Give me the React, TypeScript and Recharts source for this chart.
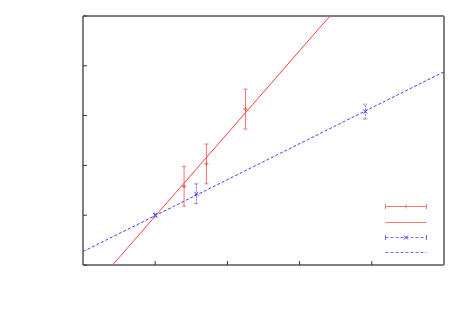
import * as React from 'react';
import { ComposedChart, Scatter, XAxis, YAxis, ErrorBar, Customized } from 'recharts';

// measured points (x, y, error)
const redX = [1.4, 1.71, 2.25];
const redY = [1.58, 2.03, 3.13];
const redErr = [0.4, 0.4, 0.4];

const blueX = [1.0, 1.57, 3.91];
const blueY = [1.0, 1.43, 3.08];
const blueErr = [0.04, 0.2, 0.15];

// fitted lines, end points
const redFitX = [0.41, 3.42];
const redFitY = [0, 5];
const blueFitX = [0, 5];
const blueFitY = [0.27, 3.88];

const axisTicks = [0, 1, 2, 3, 4, 5];

const RED = '#ff4040';
const BLUE = '#4040ff';
const RED_BAR = '#ff7070';
const BLUE_BAR = '#7070ff';
const FRAME = '#808080';

const redData = redX.map((x, i) => ({ x, y: redY[i], err: redErr[i] }));
const blueData = blueX.map((x, i) => ({ x, y: blueY[i], err: blueErr[i] }));
const redFit = redFitX.map((x, i) => ({ x, y: redFitY[i] }));
const blueFit = blueFitX.map((x, i) => ({ x, y: blueFitY[i] }));

const Plus = (props: any) => {
    const { cx, cy } = props;
    return (
        <g stroke={RED} strokeWidth={1}>
            <line x1={cx - 2} y1={cy} x2={cx + 2} y2={cy}/>
            <line x1={cx} y1={cy - 2} x2={cx} y2={cy + 2}/>
        </g>
    );
};

const Cross = (props: any) => {
    const { cx, cy } = props;
    return (
        <g stroke={BLUE} strokeWidth={1}>
            <line x1={cx - 2} y1={cy - 2} x2={cx + 2} y2={cy + 2}/>
            <line x1={cx - 2} y1={cy + 2} x2={cx + 2} y2={cy - 2}/>
        </g>
    );
};

const Nothing = () => null;

const KeySamples = () => {
    const x1 = 377.5;
    const x2 = 418.5;
    const mid = (x1 + x2) / 2;
    return (
        <g>
            <g stroke={RED_BAR} strokeWidth={1}>
                <line x1={x1} y1={198.5} x2={x2} y2={198.5}/>
                <line x1={x1} y1={196} x2={x1} y2={201}/>
                <line x1={x2} y1={196} x2={x2} y2={201}/>
                <line x1={mid} y1={196.5} x2={mid} y2={200.5}/>
            </g>
            <line x1={x1} y1={214.5} x2={x2} y2={214.5} stroke={RED_BAR} strokeWidth={1}/>
            <g stroke={BLUE_BAR} strokeWidth={1}>
                <line x1={x1} y1={229.5} x2={x2} y2={229.5} strokeDasharray="3 2"/>
                <line x1={x1} y1={227} x2={x1} y2={232}/>
                <line x1={x2} y1={227} x2={x2} y2={232}/>
                <line x1={mid - 2} y1={227.5} x2={mid + 2} y2={231.5} stroke={BLUE}/>
                <line x1={mid - 2} y1={231.5} x2={mid + 2} y2={227.5} stroke={BLUE}/>
            </g>
            <line x1={x1} y1={244.5} x2={x2} y2={244.5} stroke={BLUE_BAR} strokeWidth={1} strokeDasharray="3 2"/>
        </g>
    );
};

export default function App() {
    return (
        <ComposedChart
            width={472}
            height={314}
            margin={{ top: 8, right: 36, bottom: 57, left: 75 }}
        >
            <XAxis xAxisId="b" dataKey="x" type="number" domain={[0, 5]} ticks={axisTicks}
                   height={1} mirror tickSize={4} tickFormatter={() => ''}
                   axisLine={{ stroke: FRAME, strokeWidth: 2 }} tickLine={{ stroke: '#333' }}/>
            <XAxis xAxisId="t" orientation="top" dataKey="x" type="number" domain={[0, 5]} ticks={axisTicks}
                   height={1} mirror tickSize={4} tickFormatter={() => ''}
                   axisLine={{ stroke: '#000', strokeWidth: 1 }} tickLine={{ stroke: '#333' }}/>
            <YAxis yAxisId="l" dataKey="y" type="number" domain={[0, 5]} ticks={axisTicks}
                   width={1} mirror tickSize={4} tickFormatter={() => ''}
                   axisLine={{ stroke: FRAME, strokeWidth: 2 }} tickLine={{ stroke: '#333' }}/>
            <YAxis yAxisId="r" orientation="right" dataKey="y" type="number" domain={[0, 5]} ticks={axisTicks}
                   width={1} mirror tickSize={4} tickFormatter={() => ''}
                   axisLine={{ stroke: FRAME, strokeWidth: 2 }} tickLine={{ stroke: '#333' }}/>

            <Scatter data={redFit} xAxisId="b" yAxisId="l" line={{ stroke: RED, strokeWidth: 1 }}
                     shape={Nothing} isAnimationActive={false}/>
            <Scatter data={blueFit} xAxisId="b" yAxisId="l" line={{ stroke: BLUE, strokeWidth: 1, strokeDasharray: '3 2' }}
                     shape={Nothing} isAnimationActive={false}/>

            <Scatter data={redData} xAxisId="b" yAxisId="l" shape={Plus} isAnimationActive={false}>
                <ErrorBar dataKey="err" direction="y" width={2} stroke={RED_BAR} strokeWidth={1} isAnimationActive={false}/>
            </Scatter>
            <Scatter data={blueData} xAxisId="b" yAxisId="l" shape={Cross} isAnimationActive={false}>
                <ErrorBar dataKey="err" direction="y" width={2} stroke={BLUE_BAR} strokeWidth={1}
                          strokeDasharray="2 1" isAnimationActive={false}/>
            </Scatter>

            <Customized component={<KeySamples/>}/>
        </ComposedChart>
    );
}
